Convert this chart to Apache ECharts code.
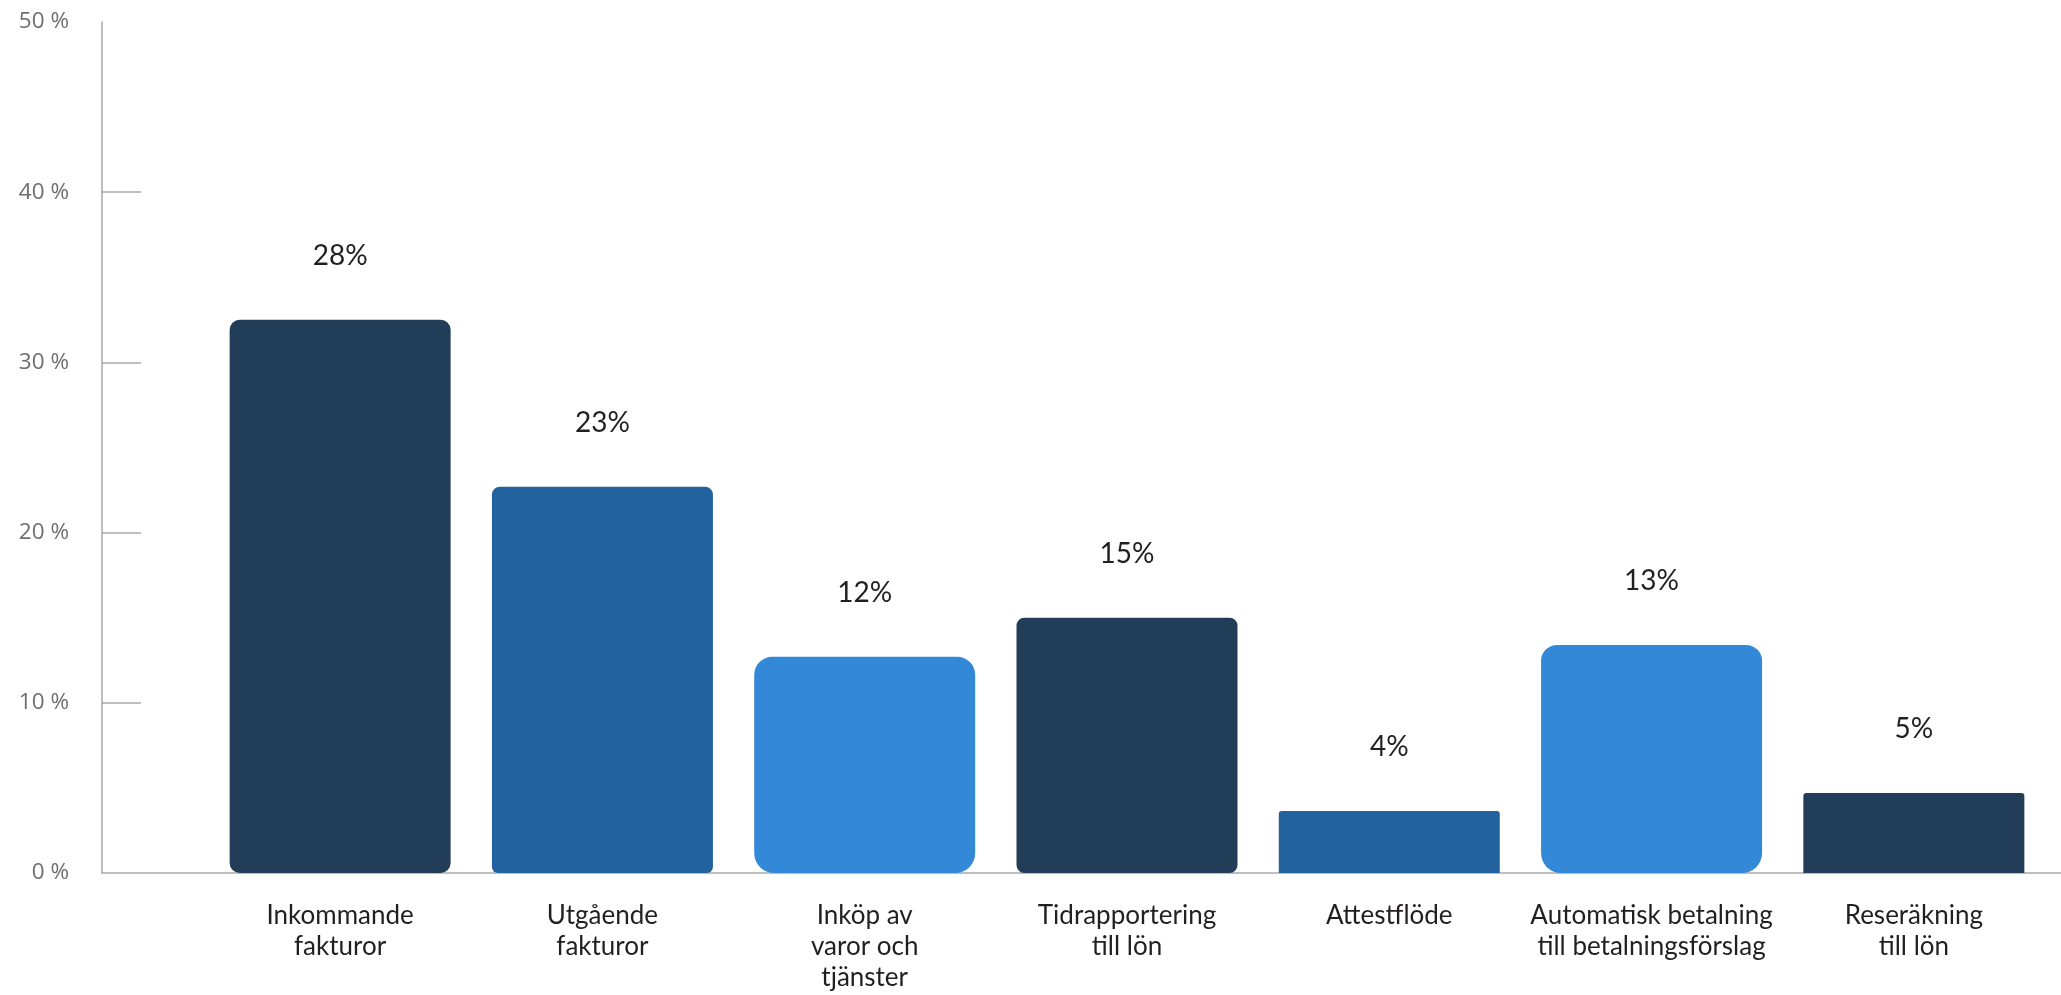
<!DOCTYPE html>
<html>
<head>
<meta charset="utf-8">
<script src="https://cdn.jsdelivr.net/npm/echarts@6/dist/echarts.min.js"></script>
<style>
html,body{margin:0;padding:0;background:#fff;}
#chart{width:2061px;height:995px;}
</style>
</head>
<body>
<div id="chart"></div>
<script>
// Data
const categories = [
  'Inkommande\nfakturor',
  'Utgående\nfakturor',
  'Inköp av\nvaror och\ntjänster',
  'Tidrapportering\ntill lön',
  'Attestflöde',
  'Automatisk betalning\ntill betalningsförslag',
  'Reseräkning\ntill lön'
];
const barValues = [32.5, 22.7, 12.7, 15.0, 3.65, 13.4, 4.7];
const valueLabels = ['28%', '23%', '12%', '15%', '4%', '13%', '5%'];
const yTicks = [0, 10, 20, 30, 40, 50];

// Styles
const colors = ['#213d58', '#22629e', '#3488d8', '#213d58', '#22629e', '#3488d8', '#213d58'];
const radii = [[10,10,10,10],[8,8,6,6],[18,18,20,20],[8,8,8,8],[3,3,0,0],[16,16,20,20],[3,3,0,0]];

const chart = echarts.init(document.getElementById('chart'), null, {renderer: 'canvas'});
const axisGray = '#a7a9ac';

const option = {
  animation: false,
  backgroundColor: '#ffffff',
  grid: [
    {left: 102, right: 0, top: 22, bottom: 122},
    {left: 209, right: 16, top: 22, bottom: 122}
  ],
  xAxis: [
    {
      gridIndex: 0, type: 'category', data: [''],
      axisLine: {show: true, lineStyle: {color: axisGray, width: 1.5}},
      axisTick: {show: false}, axisLabel: {show: false}
    },
    {
      gridIndex: 1, type: 'category', data: categories,
      axisLine: {show: false}, axisTick: {show: false},
      axisLabel: {
        interval: 0, margin: 27,
        fontFamily: 'Lato', fontSize: 26, lineHeight: 31,
        color: '#231f20', align: 'center', verticalAlign: 'top'
      }
    }
  ],
  yAxis: [
    {
      gridIndex: 0, type: 'value', min: yTicks[0], max: yTicks[yTicks.length - 1], interval: 10,
      axisLine: {show: true, lineStyle: {color: axisGray, width: 1.5}},
      axisTick: {show: true, inside: true, length: 39, customValues: [10, 20, 30, 40],
                 lineStyle: {color: axisGray, width: 1.5}},
      splitLine: {show: false},
      axisLabel: {
        margin: 33, formatter: '{value} %',
        fontFamily: 'Open Sans', fontSize: 22.5, color: '#6d6e71'
      }
    },
    {
      gridIndex: 1, type: 'value', min: yTicks[0], max: yTicks[yTicks.length - 1],
      show: false, splitLine: {show: false}
    }
  ],
  series: [{
    type: 'bar',
    xAxisIndex: 1, yAxisIndex: 1,
    barWidth: 221,
    data: barValues.map((v, i) => ({
      value: v,
      itemStyle: {color: colors[i], borderRadius: radii[i]}
    })),
    label: {
      show: true, position: 'top', distance: 50,
      formatter: p => valueLabels[p.dataIndex],
      fontFamily: 'Lato', fontSize: 28, color: '#231f20'
    }
  }]
};
chart.setOption(option);
</script>
</body>
</html>
